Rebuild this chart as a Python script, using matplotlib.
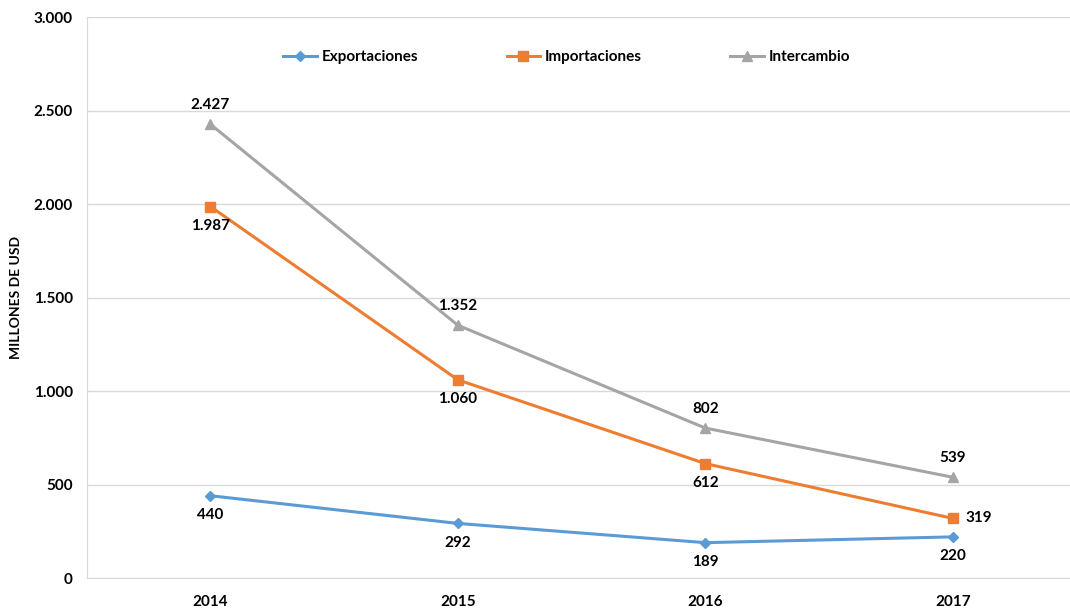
import matplotlib.pyplot as plt
from matplotlib.ticker import FuncFormatter

years = ["2014", "2015", "2016", "2017"]
exportaciones = [440, 292, 189, 220]
importaciones = [1987, 1060, 612, 319]
intercambio = [2427, 1352, 802, 539]


def fmt_miles(v):
    return f"{int(round(v)):,}".replace(",", ".")


plt.rcParams["font.family"] = ["Lato", "DejaVu Sans"]
plt.rcParams["font.weight"] = "bold"

fig = plt.figure(figsize=(10.7, 6.11), dpi=100)
ax = fig.add_axes([0.081, 0.054, 0.925, 0.918])

x = list(range(len(years)))
ax.plot(x, exportaciones, color="#5B9BD5", marker="D", markersize=5,
        linewidth=2.2, label="Exportaciones")
ax.plot(x, importaciones, color="#ED7D31", marker="s", markersize=7,
        linewidth=2.2, label="Importaciones")
ax.plot(x, intercambio, color="#A5A5A5", marker="^", markersize=7,
        linewidth=2.2, label="Intercambio")

# data labels
fs = 11
for i, v in enumerate(intercambio):
    ax.annotate(fmt_miles(v), (i, v), xytext=(0, 9), textcoords="offset points",
                ha="center", va="bottom", fontsize=fs, fontweight="bold")
for i, v in enumerate(importaciones):
    if i == len(importaciones) - 1:
        ax.annotate(fmt_miles(v), (i, v), xytext=(9, 0), textcoords="offset points",
                    ha="left", va="center", fontsize=fs, fontweight="bold")
    else:
        ax.annotate(fmt_miles(v), (i, v), xytext=(0, -9), textcoords="offset points",
                    ha="center", va="top", fontsize=fs, fontweight="bold")
for i, v in enumerate(exportaciones):
    ax.annotate(fmt_miles(v), (i, v), xytext=(0, -9), textcoords="offset points",
                ha="center", va="top", fontsize=fs, fontweight="bold")

ax.set_xlim(-0.5, len(years) - 0.5)
ax.set_ylim(0, 3000)
ax.set_yticks(range(0, 3001, 500))
ax.yaxis.set_major_formatter(FuncFormatter(lambda v, p: fmt_miles(v)))
ax.set_xticks(x)
ax.set_xticklabels(years)
ax.tick_params(axis="both", length=0, labelsize=fs)
ax.tick_params(axis="x", pad=12)
ax.tick_params(axis="y", pad=10)
ax.grid(axis="y", color="#D9D9D9", linewidth=1)
ax.set_axisbelow(True)
for side in ["top", "right"]:
    ax.spines[side].set_visible(False)
for side in ["left", "bottom"]:
    ax.spines[side].set_color("#D9D9D9")

ax.set_ylabel("MILLONES DE USD", fontsize=10, fontweight="bold", labelpad=8)

ax.legend(loc="upper center", bbox_to_anchor=(0.485, 0.965), ncol=3, frameon=False,
          fontsize=fs, handlelength=2.2, handletextpad=0.3, columnspacing=5.8)

fig.savefig("out.png", dpi=100)
